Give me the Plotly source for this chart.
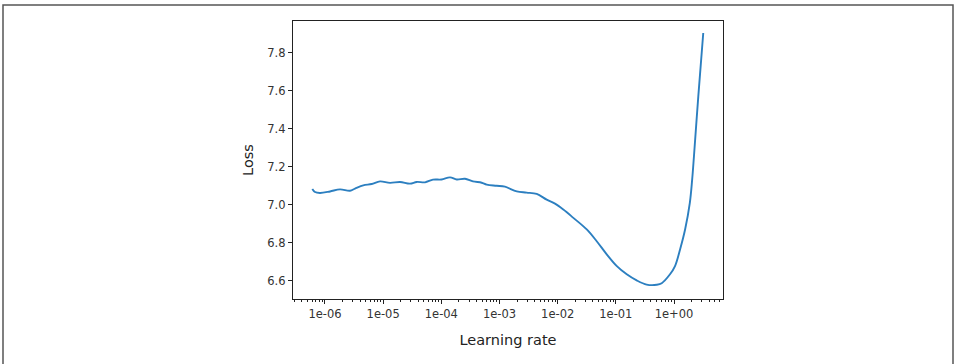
import plotly.graph_objects as go

# Learning-rate finder data
learning_rate = [
    6.05e-7, 6.73e-7, 8.20e-7, 1.22e-6, 1.81e-6, 2.69e-6, 3.28e-6, 4.55e-6,
    6.35e-6, 8.83e-6, 1.31e-5, 1.95e-5, 2.89e-5, 3.77e-5, 5.24e-5, 7.19e-5,
    1.01e-4, 1.41e-4, 1.84e-4, 2.55e-4, 3.50e-4, 4.94e-4, 6.03e-4, 8.95e-4,
    1.24e-3, 1.98e-3, 2.93e-3, 4.36e-3, 6.47e-3, 8.99e-3, 1.25e-2, 1.86e-2,
    3.16e-2, 4.69e-2, 6.97e-2, 0.104, 0.154, 0.228, 0.339, 0.504,
    0.614, 0.853, 1.04, 1.27, 1.55, 1.87, 2.05, 2.20, 2.61, 3.18,
]
loss = [
    7.084, 7.068, 7.063, 7.071, 7.082, 7.075, 7.086, 7.103,
    7.110, 7.124, 7.116, 7.121, 7.112, 7.121, 7.119, 7.133,
    7.134, 7.145, 7.134, 7.138, 7.124, 7.117, 7.107, 7.101,
    7.096, 7.071, 7.065, 7.058, 7.028, 7.007, 6.976, 6.932,
    6.871, 6.809, 6.740, 6.678, 6.635, 6.603, 6.581, 6.580,
    6.588, 6.635, 6.678, 6.766, 6.871, 7.011, 7.133, 7.255, 7.569, 7.905,
]

x_tickvals = [1e-6, 1e-5, 1e-4, 1e-3, 1e-2, 1e-1, 1e0]
x_ticktext = ["1e-06", "1e-05", "1e-04", "1e-03", "1e-02", "1e-01", "1e+00"]
y_tickvals = [6.6, 6.8, 7.0, 7.2, 7.4, 7.6, 7.8]
y_ticktext = ["6.6", "6.8", "7.0", "7.2", "7.4", "7.6", "7.8"]

W, H = 957, 364
L, R, T, B = 293, 723, 21, 299

fig = go.Figure()
fig.add_trace(go.Scatter(
    x=learning_rate, y=loss, mode="lines",
    line=dict(color="#2c7fc0", width=1.9, shape="spline", smoothing=1.0),
    hoverinfo="skip", showlegend=False,
))

axis_common = dict(
    showline=True, linecolor="#222222", linewidth=1.2, mirror=True,
    showgrid=False, zeroline=False, ticks="outside", ticklen=4,
    tickcolor="#222222", tickwidth=1,
    tickfont=dict(family="DejaVu Sans", size=11.5, color="#333333"),
)

fig.update_layout(
    width=W, height=H,
    margin=dict(l=L, r=W - R, t=T, b=H - B, pad=0),
    paper_bgcolor="white", plot_bgcolor="white",
    xaxis=dict(
        type="log", range=[-6.55, 0.842],
        tickvals=x_tickvals, ticktext=x_ticktext,
        minor=dict(ticks="outside", ticklen=2, tickcolor="#222222", dtick="D1", showgrid=False),
        title=dict(text="Learning rate", standoff=14,
                   font=dict(family="DejaVu Sans", size=14.5, color="#222222")),
        **axis_common,
    ),
    yaxis=dict(
        range=[6.505, 7.968],
        tickvals=y_tickvals, ticktext=y_ticktext,
        title=dict(text="Loss", standoff=10,
                   font=dict(family="DejaVu Sans", size=14.5, color="#222222")),
        **axis_common,
    ),
    shapes=[dict(
        type="rect", xref="paper", yref="paper",
        xsizemode="pixel", ysizemode="pixel", xanchor=0, yanchor=1,
        x0=3 - L, x1=953 - L, y0=T - 5, y1=-(H - T) - 20,
        line=dict(color="#555555", width=1.5), fillcolor="rgba(0,0,0,0)",
        layer="below",
    )],
)

fig.write_html(
    "out.html",
    config={"displayModeBar": False},
    post_script="document.body.style.margin='0';document.body.style.overflow='hidden';",
)
